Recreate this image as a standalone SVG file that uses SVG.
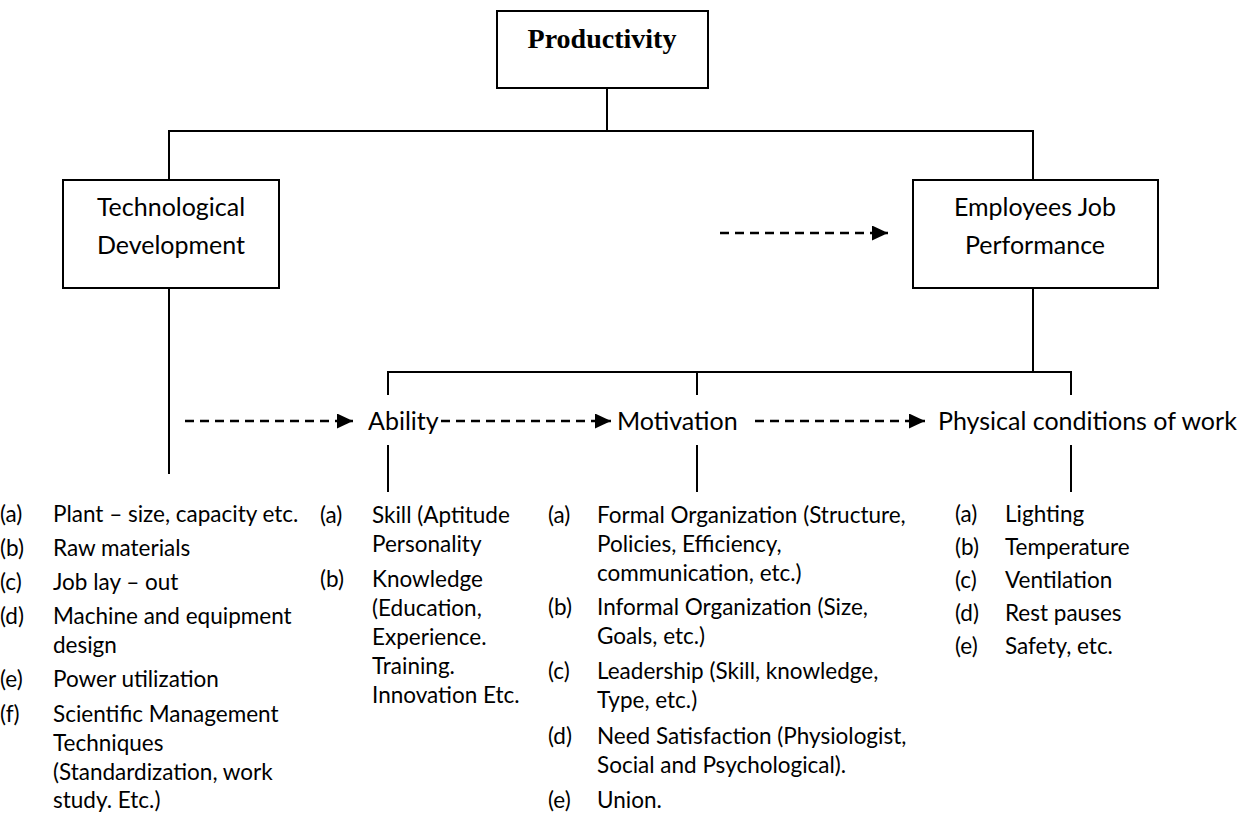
<svg xmlns="http://www.w3.org/2000/svg" width="1244" height="814" viewBox="0 0 1244 814">
<style>
.box{fill:#fff;stroke:#000;stroke-width:2}
.ln{fill:none;stroke:#000;stroke-width:2}
.dash{fill:none;stroke:#000;stroke-width:2.5;stroke-dasharray:9 6}
.title{font-family:"Liberation Serif",serif;font-weight:bold;font-size:28px;fill:#000;text-anchor:middle}
.hd{font-family:Lato,"Liberation Sans",sans-serif;font-size:25px;fill:#000}
.mid{text-anchor:middle}
.li{font-family:Lato,"Liberation Sans",sans-serif;font-size:22.5px;fill:#000}
</style>
<defs>
<marker id="arr" markerUnits="userSpaceOnUse" markerWidth="17" markerHeight="15" refX="16" refY="7.5" orient="auto">
<path d="M0,0 L16,7.5 L0,15 z" fill="#000"/>
</marker>
</defs>
<g id="connectors">
<line class="ln" x1="607" y1="88" x2="607" y2="131"/>
<polyline class="ln" points="169,180 169,131 1033,131 1033,180"/>
<line class="ln" x1="169" y1="288" x2="169" y2="474"/>
<line class="ln" x1="1033" y1="288" x2="1033" y2="372"/>
<polyline class="ln" points="388,395 388,372 1071,372 1071,395"/>
<line class="ln" x1="697" y1="372" x2="697" y2="395"/>
<line class="ln" x1="388" y1="445" x2="388" y2="492"/>
<line class="ln" x1="697" y1="445" x2="697" y2="492"/>
<line class="ln" x1="1071" y1="445" x2="1071" y2="492"/>
<line class="dash" x1="720" y1="233" x2="888" y2="233" marker-end="url(#arr)"/>
<line class="dash" x1="185" y1="421" x2="353" y2="421" marker-end="url(#arr)"/>
<line class="dash" x1="441" y1="421" x2="611" y2="421" marker-end="url(#arr)"/>
<line class="dash" x1="755" y1="421" x2="925" y2="421" marker-end="url(#arr)"/>
</g>
<g id="productivity">
<rect class="box" x="497" y="11" width="211" height="77"/>
<text class="title" x="602" y="48">Productivity</text>
</g>
<g id="technological">
<rect class="box" x="63" y="180" width="216" height="108"/>
<text class="hd mid" x="171" y="216">Technological</text>
<text class="hd mid" x="171" y="254">Development</text>
</g>
<g id="employees">
<rect class="box" x="913" y="180" width="245" height="108"/>
<text class="hd mid" x="1035" y="216">Employees Job</text>
<text class="hd mid" x="1035" y="254">Performance</text>
</g>
<g id="ability">
<text class="hd" x="368" y="430">Ability</text>
</g>
<g id="motivation">
<text class="hd" x="617" y="430">Motivation</text>
</g>
<g id="physical">
<text class="hd" x="938" y="430">Physical conditions of work</text>
</g>
<g id="tech-list">
<text class="li" x="0" y="522">(a)</text><text class="li" x="53" y="522">Plant – size, capacity etc.</text>
<text class="li" x="0" y="556">(b)</text><text class="li" x="53" y="556">Raw materials</text>
<text class="li" x="0" y="590">(c)</text><text class="li" x="53" y="590">Job lay – out</text>
<text class="li" x="0" y="624">(d)</text><text class="li" x="53" y="624">Machine and equipment</text>
<text class="li" x="53" y="653">design</text>
<text class="li" x="0" y="687">(e)</text><text class="li" x="53" y="687">Power utilization</text>
<text class="li" x="0" y="722">(f)</text><text class="li" x="53" y="722">Scientific Management</text>
<text class="li" x="53" y="751">Techniques</text>
<text class="li" x="53" y="780">(Standardization, work</text>
<text class="li" x="53" y="808">study. Etc.)</text>
</g>
<g id="ability-list">
<text class="li" x="320" y="523">(a)</text><text class="li" x="372" y="523">Skill (Aptitude</text>
<text class="li" x="372" y="552">Personality</text>
<text class="li" x="320" y="587">(b)</text><text class="li" x="372" y="587">Knowledge</text>
<text class="li" x="372" y="616">(Education,</text>
<text class="li" x="372" y="645">Experience.</text>
<text class="li" x="372" y="674">Training.</text>
<text class="li" x="372" y="703">Innovation Etc.</text>
</g>
<g id="motivation-list">
<text class="li" x="548" y="523">(a)</text><text class="li" x="597" y="523">Formal Organization (Structure,</text>
<text class="li" x="597" y="552">Policies, Efficiency,</text>
<text class="li" x="597" y="581">communication, etc.)</text>
<text class="li" x="548" y="615">(b)</text><text class="li" x="597" y="615">Informal Organization (Size,</text>
<text class="li" x="597" y="644">Goals, etc.)</text>
<text class="li" x="548" y="679">(c)</text><text class="li" x="597" y="679">Leadership (Skill, knowledge,</text>
<text class="li" x="597" y="708">Type, etc.)</text>
<text class="li" x="548" y="744">(d)</text><text class="li" x="597" y="744">Need Satisfaction (Physiologist,</text>
<text class="li" x="597" y="773">Social and Psychological).</text>
<text class="li" x="548" y="808">(e)</text><text class="li" x="597" y="808">Union.</text>
</g>
<g id="physical-list">
<text class="li" x="955" y="522">(a)</text><text class="li" x="1005" y="522">Lighting</text>
<text class="li" x="955" y="555">(b)</text><text class="li" x="1005" y="555">Temperature</text>
<text class="li" x="955" y="588">(c)</text><text class="li" x="1005" y="588">Ventilation</text>
<text class="li" x="955" y="621">(d)</text><text class="li" x="1005" y="621">Rest pauses</text>
<text class="li" x="955" y="654">(e)</text><text class="li" x="1005" y="654">Safety, etc.</text>
</g>
</svg>
